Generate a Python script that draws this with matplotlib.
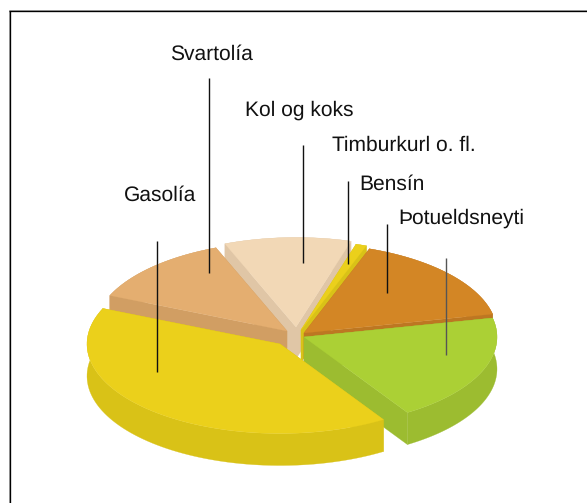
import numpy as np
import matplotlib
matplotlib.use("Agg")
import matplotlib.pyplot as plt
from matplotlib.patches import Polygon

plt.rcParams["font.family"] = ["Liberation Sans", "DejaVu Sans"]
plt.rcParams["text.hinting"] = "no_hinting"
plt.rcParams["text.hinting_factor"] = 1

# shares in percent, counter-clockwise from start_angle
labels = ["Þotueldsneyti", "Bensín", "Timburkurl o. fl.", "Kol og koks", "Svartolía", "Gasolía"]
shares = [19.4, 16.1, 0.9, 10.6, 12.5, 40.5]
start_angle = -57.6

top_colors = ["#abd035", "#d38625", "#ebd01b", "#f2d8b6", "#e4ae70", "#ebd01b"]
side_colors = ["#9cbc30", "#bd7722", "#d9c217", "#e0c6a6", "#d19e63", "#d9c217"]

# how far each slice is pulled out of the centre
explode_x = [10, 10, 7, 2, -7, -14]
explode_y = [3, -1, -4, -7, -3, 10]

# back to front
draw_order = [3, 4, 2, 1, 0, 5]

center = (294, 334)
rx, ry = 193, 89.5
depth = 32


def slicePoints(a0, a1, cx, cy):
    """Rim points of a slice, squashed to an ellipse"""
    t = np.radians(np.linspace(a0, a1, 80))
    return np.column_stack([cx + rx * np.cos(t), cy - ry * np.sin(t)])


def drawSlice(ax, a0, a1, cx, cy, top, side):
    rim = slicePoints(a0, a1, cx, cy)
    down = np.array([0, depth])
    apex = np.array([cx, cy])
    for p in (rim[0], rim[-1]):
        ax.add_patch(Polygon([apex, p, p + down, apex + down], fc=side, ec=side, lw=0.2))
    ax.add_patch(Polygon(np.vstack([rim, (rim + down)[::-1]]), fc=side, ec=side, lw=0.2))
    ax.add_patch(Polygon(np.vstack([apex, rim]), fc=top, ec=top, lw=0.2))


fig = plt.figure(figsize=(5.87, 5.03), dpi=100)
ax = fig.add_axes([0, 0, 1, 1])
ax.set_xlim(0, 587)
ax.set_ylim(503, 0)
ax.axis("off")

# frame: only the top and left edges are in the crop
ax.plot([8.5, 8.5], [9.5, 503], color="#a8a8a8", lw=0.72, solid_capstyle="butt")
ax.plot([8.5, 587], [9.5, 9.5], color="#a8a8a8", lw=0.72, solid_capstyle="butt")
ax.plot([9.7, 9.7], [10.7, 503], color="black", lw=0.95, solid_capstyle="butt")
ax.plot([9.2, 587], [10.7, 10.7], color="black", lw=0.95, solid_capstyle="butt")

edges = start_angle + np.concatenate([[0], np.cumsum(shares)]) * 3.6
for i in draw_order:
    drawSlice(ax, edges[i], edges[i + 1], center[0] + explode_x[i], center[1] + explode_y[i],
              top_colors[i], side_colors[i])

# leader lines and their labels
line_x = [446, 387, 347.5, 303, 209, 157]
line_top = [258, 224, 181, 145, 78, 241]
line_end = [355, 293, 264, 263, 273, 372]
line_colors = ["#555555", "#111111", "#111111", "#111111", "#111111", "#111111"]
text_x = [461.5, 392, 404, 299, 211.5, 160.5]
text_y = [218, 184, 145, 110, 54, 195]

for i in range(len(labels)):
    ax.plot([line_x[i], line_x[i]], [line_top[i], line_end[i]], color=line_colors[i], lw=1.0,
            solid_capstyle="butt")
    ax.text(text_x[i], text_y[i], labels[i], ha="center", va="center", fontsize=15.4, color="#111111")

fig.savefig("out.png", dpi=100)
